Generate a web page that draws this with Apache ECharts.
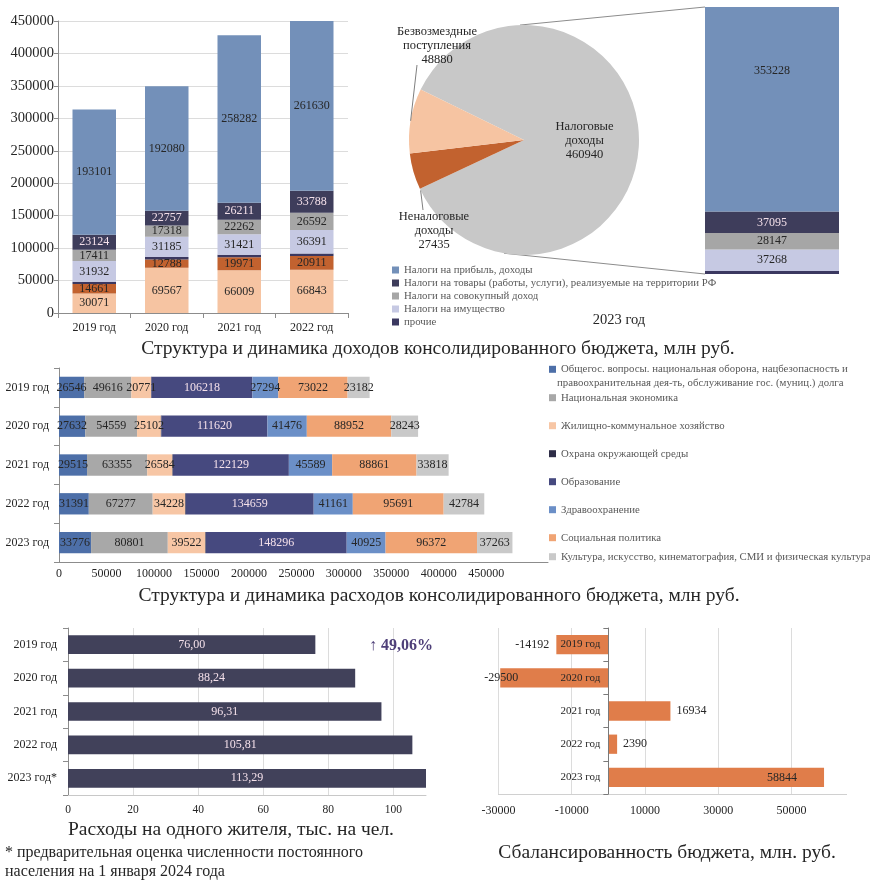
<!DOCTYPE html>
<html><head><meta charset="utf-8">
<script src="https://cdn.jsdelivr.net/npm/echarts@6/dist/echarts.min.js"></script>
<style>html,body{margin:0;padding:0;background:#fff}#c{width:870px;height:881px}</style>
</head><body><div id="c"></div>
<script>
// ---------- DATA ----------
const incomeYears = ['2019 год', '2020 год', '2021 год', '2022 год'];
const incomeBezvozm = [30071, 69567, 66009, 66843];
const incomeNenalog = [14661, 12788, 19971, 20911];
const incomeProchie = [3300, 3800, 3900, 3800];
const incomeImush = [31932, 31185, 31421, 36391];
const incomeSovok = [17411, 17318, 22262, 26592];
const incomeTovary = [23124, 22757, 26211, 33788];
const incomePribyl = [193101, 192080, 258282, 261630];

const pie2023Names = ['Налоговые доходы', 'Неналоговые доходы', 'Безвозмездные поступления'];
const pie2023Values = [460940, 27435, 48880];

const tax2023Category = ['2023 год'];
const tax2023Prochie = [5202];
const tax2023Imush = [37268];
const tax2023Sovok = [28147];
const tax2023Tovary = [37095];
const tax2023Pribyl = [353228];

const taxNames = ['Налоги на прибыль, доходы', 'Налоги на товары (работы, услуги), реализуемые на территории РФ',
  'Налоги на совокупный доход', 'Налоги на имущество', 'прочие'];

const expYears = ['2019 год', '2020 год', '2021 год', '2022 год', '2023 год'];
const expNames = ['Общегос. вопросы. национальная оборона, нацбезопасность и правоохранительная дея-ть, обслуживание гос. (муниц.) долга',
  'Национальная экономика', 'Жилищно-коммунальное хозяйство', 'Охрана окружающей среды', 'Образование',
  'Здравоохранение', 'Социальная политика', 'Культура, искусство, кинематография, СМИ и физическая культура'];
const expObshegos = [26546, 27632, 29515, 31391, 33776];
const expNacEkon = [49616, 54559, 63355, 67277, 80801];
const expZhkh = [20771, 25102, 26584, 34228, 39522];
const expOhrana = [500, 600, 500, 700, 600];
const expObraz = [106218, 111620, 122129, 134659, 148296];
const expZdrav = [27294, 41476, 45589, 41161, 40925];
const expSocial = [73022, 88952, 88861, 95691, 96372];
const expKultura = [23182, 28243, 33818, 42784, 37263];

const perCapitaYears = ['2019 год', '2020 год', '2021 год', '2022 год', '2023 год*'];
const perCapitaValues = [76.00, 88.24, 96.31, 105.81, 113.29];
const perCapitaGrowth = '↑ 49,06%';

const balanceYears = ['2019 год', '2020 год', '2021 год', '2022 год', '2023 год'];
const balanceValues = [-14192, -29500, 16934, 2390, 58844];

const incomeTicks = {min: 0, max: 450000, interval: 50000};
const expTicks = {min: 0, max: 515000, interval: 50000, lastLabel: 450000};
const perCapTicks = {min: 0, max: 110, interval: 20};
const balTicks = {min: -30000, max: 65000, interval: 20000};

// ---------- STYLE ----------
const FONT = 'Liberation Serif';
const DARK = '#262626';
const LIGHT = '#f4e0ea';
const AXIS = '#8c8c8c';
const GRIDC = '#dcdcdc';
const C = {
  pribyl: '#7390b9', tovary: '#3e3d5b', sovok: '#a6a6a6', imush: '#c6c9e3', prochie: '#3b3860',
  nenalog: '#c2622f', bezv: '#f6c4a2', pieTax: '#c8c8c8'
};
const EXPC = ['#4d6fa8', '#a8a8a8', '#f7c6a5', '#2e2d47', '#46497f', '#6b8fc7', '#f0a474', '#c9c9c9'];

const PIE_CENTER = [524, 140], PIE_R = 115, PIE_START = 154;
const BAR2 = {left: 705, top: 7, width: 134, height: 267};
const BALGRID = {left: 498.4, top: 628, width: 348.2, height: 166};
// outside pie label placement: label centre, leader start angle on the rim, leader end offset from label centre
const PIE_LABELS = {
  1: {xy: [434, 231], angle: 206, end: [-11, -21]},
  2: {xy: [437, 46], angle: 170.4, end: [-20, 19]}
};
const LEGEND_SPLIT = 'нацбезопасность и ';

function lbl(color, extra) {
  return Object.assign({show: true, position: 'inside', color: color, fontFamily: FONT, fontSize: 12}, extra || {});
}
const sum = a => a.reduce((s, v) => s + v, 0);
const plain = v => String(v);

const chart = echarts.init(document.getElementById('c'));

// income stacked series (grid 0)
const incomeDefs = [
  ['Безвозмездные поступления', incomeBezvozm, C.bezv, DARK],
  ['Неналоговые доходы', incomeNenalog, C.nenalog, DARK],
  ['прочие', incomeProchie, C.prochie, null],
  ['Налоги на имущество', incomeImush, C.imush, DARK],
  ['Налоги на совокупный доход', incomeSovok, C.sovok, DARK],
  [taxNames[1], incomeTovary, C.tovary, LIGHT],
  ['Налоги на прибыль, доходы', incomePribyl, C.pribyl, DARK]
];
const series = [];
incomeDefs.forEach(d => series.push({
  type: 'bar', name: d[0], data: d[1], stack: 'inc', xAxisIndex: 0, yAxisIndex: 0,
  barWidth: '60%', itemStyle: {color: d[2]},
  label: d[3] ? lbl(d[3]) : {show: false}
}));

// 2023 tax breakdown bar (grid 1)
const taxTotal = sum(tax2023Prochie) + sum(tax2023Imush) + sum(tax2023Sovok) + sum(tax2023Tovary) + sum(tax2023Pribyl);
const taxDefs = [
  ['прочие', tax2023Prochie, C.prochie, null, null],
  ['Налоги на имущество', tax2023Imush, C.imush, DARK, null],
  ['Налоги на совокупный доход', tax2023Sovok, C.sovok, DARK, null],
  [taxNames[1], tax2023Tovary, C.tovary, LIGHT, null],
  ['Налоги на прибыль, доходы', tax2023Pribyl, C.pribyl, DARK, ['50%', '31%']]
];
taxDefs.forEach(d => series.push({
  type: 'bar', name: d[0], data: d[1], stack: 't23', xAxisIndex: 1, yAxisIndex: 1,
  barWidth: '100%', itemStyle: {color: d[2]},
  label: d[3] ? lbl(d[3], d[4] ? {position: d[4], align: 'center', verticalAlign: 'middle'} : {}) : {show: false}
}));

// pie
const pieColors = [C.pieTax, C.nenalog, C.bezv];
series.push({
  type: 'pie', center: PIE_CENTER, radius: PIE_R, startAngle: PIE_START, clockwise: true,
  data: pie2023Names.map((n, i) => ({
    name: n, value: pie2023Values[i], itemStyle: {color: pieColors[i]},
    label: {position: i === 0 ? 'inside' : 'outside'}
  })),
  label: {
    show: true, fontFamily: FONT, fontSize: 12.5, lineHeight: 14, color: DARK,
    formatter: p => p.name.replace(' ', '\n') + '\n' + p.value
  },
  labelLine: {show: false},
  labelLayout: function (p) {
    const L = PIE_LABELS[p.dataIndex];
    if (!L) return {};
    return {x: L.xy[0], y: L.xy[1], align: 'center', verticalAlign: 'middle'};
  },
  emphasis: {disabled: true}
});

// expenses (grid 2)
const expData = [expObshegos, expNacEkon, expZhkh, expOhrana, expObraz, expZdrav, expSocial, expKultura];
const expLabelColor = [DARK, DARK, DARK, null, LIGHT, DARK, DARK, DARK];
expData.forEach((d, i) => series.push({
  type: 'bar', name: expNames[i], data: d, stack: 'exp', xAxisIndex: 2, yAxisIndex: 2,
  barWidth: '55%', itemStyle: {color: EXPC[i]},
  label: expLabelColor[i] ? lbl(expLabelColor[i]) : {show: false}
}));

// per capita (grid 3)
series.push({
  type: 'bar', name: 'Расходы на одного жителя', data: perCapitaValues, xAxisIndex: 3, yAxisIndex: 3,
  barWidth: '56%', itemStyle: {color: '#41415a'},
  label: lbl(LIGHT, {formatter: p => p.value.toFixed(2).replace('.', ',')})
});

// balance (grid 4)
function balLabel(v) {
  const range = balTicks.max - balTicks.min;
  if (v < 0) {
    if (v - balTicks.min < 0.1 * range) return {position: 'insideLeft', distance: 0, offset: [-16, 0]};
    return {position: 'left', distance: 7};
  }
  if (balTicks.max - v < 0.1 * range) return {position: 'insideRight', distance: 27};
  return {position: 'right', distance: 6};
}
series.push({
  type: 'bar', name: 'Сбалансированность', xAxisIndex: 4, yAxisIndex: 4, barWidth: '58%',
  itemStyle: {color: '#e07d4a'},
  data: balanceValues.map(v => ({value: v, label: balLabel(v)})),
  label: {show: true, color: DARK, fontFamily: FONT, fontSize: 12}
});
// y axis of the balance chart sits on the zero of the value axis
const balZeroOffset = -(0 - balTicks.min) / (balTicks.max - balTicks.min) * BALGRID.width;

const axisLbl = (size, extra) => Object.assign({fontFamily: FONT, fontSize: size, color: DARK}, extra || {});
const LEG_TEXT = {fontFamily: FONT, fontSize: 10.8, color: '#595959'};
const legFirstLine = expNames[0].split(LEGEND_SPLIT)[0] + LEGEND_SPLIT.trim();
const legSecondLine = expNames[0].split(LEGEND_SPLIT)[1];

const option = {
  animation: false,
  textStyle: {fontFamily: FONT},
  grid: [
    {left: 58, top: 21, width: 290, height: 292},
    BAR2,
    {left: 59, top: 368, width: 489, height: 194},
    {left: 68, top: 628, width: 358, height: 167},
    BALGRID
  ],
  xAxis: [
    {type: 'category', gridIndex: 0, data: incomeYears,
      axisLine: {lineStyle: {color: AXIS}}, axisTick: {show: true, length: 5, lineStyle: {color: AXIS}},
      axisLabel: axisLbl(12, {margin: 9, interval: 0})},
    {type: 'category', gridIndex: 1, data: tax2023Category, show: false},
    {type: 'value', gridIndex: 2, min: expTicks.min, max: expTicks.max, interval: expTicks.interval,
      axisLine: {show: true, lineStyle: {color: AXIS}}, axisTick: {show: false}, splitLine: {show: false},
      axisLabel: axisLbl(12, {margin: 6, formatter: v => v > expTicks.lastLabel ? '' : String(v)})},
    {type: 'value', gridIndex: 3, min: perCapTicks.min, max: perCapTicks.max, interval: perCapTicks.interval,
      axisLine: {show: true, lineStyle: {color: '#c8c8c8'}}, axisTick: {show: false},
      splitLine: {show: true, showMaxLine: false, lineStyle: {color: GRIDC}},
      axisLabel: axisLbl(11.5, {margin: 9, showMaxLabel: false, formatter: plain})},
    {type: 'value', gridIndex: 4, min: balTicks.min, max: balTicks.max, interval: balTicks.interval,
      axisLine: {show: true, lineStyle: {color: '#d0d0d0'}}, axisTick: {show: false},
      splitLine: {show: true, showMaxLine: false, lineStyle: {color: GRIDC}},
      axisLabel: axisLbl(12, {margin: 11, showMaxLabel: false, formatter: plain})}
  ],
  yAxis: [
    {type: 'value', gridIndex: 0, min: incomeTicks.min, max: incomeTicks.max, interval: incomeTicks.interval,
      axisLine: {show: true, lineStyle: {color: AXIS}}, axisTick: {show: true, length: 4, lineStyle: {color: AXIS}},
      splitLine: {show: true, lineStyle: {color: GRIDC}},
      axisLabel: axisLbl(14.5, {margin: 4, formatter: plain})},
    {type: 'value', gridIndex: 1, min: 0, max: taxTotal, show: false},
    {type: 'category', gridIndex: 2, data: expYears, inverse: true,
      axisLine: {show: true, lineStyle: {color: AXIS}}, axisTick: {show: true, length: 5, lineStyle: {color: AXIS}},
      axisLabel: axisLbl(12, {margin: 10, interval: 0})},
    {type: 'category', gridIndex: 3, data: perCapitaYears, inverse: true,
      axisLine: {show: true, lineStyle: {color: AXIS}}, axisTick: {show: true, length: 5, lineStyle: {color: AXIS}},
      axisLabel: axisLbl(12, {margin: 11, interval: 0})},
    {type: 'category', gridIndex: 4, data: balanceYears, inverse: true, z: 5, offset: balZeroOffset,
      axisLine: {show: true, onZero: false, lineStyle: {color: '#7a7a7a'}}, axisTick: {show: true, length: 5, lineStyle: {color: '#7a7a7a'}},
      axisLabel: axisLbl(11, {margin: 8, interval: 0})}
  ],
  legend: [
    {left: 392, top: 263.5, orient: 'vertical', icon: 'rect', itemWidth: 7, itemHeight: 7, itemGap: 0,
      selectedMode: false, padding: 0,
      textStyle: Object.assign({lineHeight: 13}, LEG_TEXT), data: taxNames},
    {left: 549, top: 362.3, orient: 'vertical', icon: 'rect', itemWidth: 7, itemHeight: 7, itemGap: 0,
      selectedMode: false, padding: 0,
      formatter: () => legFirstLine,
      textStyle: Object.assign({lineHeight: 14}, LEG_TEXT), data: [expNames[0]]},
    {left: 549, top: 390.7, orient: 'vertical', icon: 'rect', itemWidth: 7, itemHeight: 7, itemGap: 14,
      selectedMode: false, padding: 0,
      textStyle: Object.assign({lineHeight: 14}, LEG_TEXT), data: expNames.slice(1, 7)},
    {left: 549, top: 549.7, orient: 'vertical', icon: 'rect', itemWidth: 7, itemHeight: 7, itemGap: 0,
      selectedMode: false, padding: 0,
      textStyle: Object.assign({lineHeight: 14}, LEG_TEXT), data: [expNames[7]]}
  ],
  series: series
};

// connector lines for pie-of-bar, pie leader lines and text blocks
const rad = a => a * Math.PI / 180;
const rim = a => [PIE_CENTER[0] + PIE_R * Math.cos(rad(a)), PIE_CENTER[1] - PIE_R * Math.sin(rad(a))];
const pieTop = rim(92), pieBot = rim(260);
const leaderLines = Object.keys(PIE_LABELS).map(k => {
  const L = PIE_LABELS[k], s = rim(L.angle);
  return {type: 'line', shape: {x1: s[0], y1: s[1], x2: L.xy[0] + L.end[0], y2: L.xy[1] + L.end[1]},
    style: {stroke: '#7f7f7f', lineWidth: 1}, z: 10};
});
const texts = [
  ['Структура и динамика доходов консолидированного бюджета, млн руб.', 438, 349, 19.5, 'center', 'normal', DARK],
  ['2023 год', 619, 320.5, 14.5, 'center', 'normal', DARK],
  ['Структура и динамика расходов консолидированного бюджета, млн руб.', 439, 596, 19.5, 'center', 'normal', DARK],
  ['Расходы на одного жителя, тыс. на чел.', 231, 830, 19.5, 'center', 'normal', DARK],
  ['* предварительная оценка численности постоянного', 5, 853, 16, 'left', 'normal', DARK],
  ['населения на 1 января 2024 года', 5, 872, 16, 'left', 'normal', DARK],
  ['Сбалансированность бюджета, млн. руб.', 667, 853, 19.5, 'center', 'normal', DARK],
  [perCapitaGrowth, 401, 646, 16, 'center', 'bold', '#4e3f78'],
  [legSecondLine, 557, 383, 10.8, 'left', 'normal', '#595959']
];
option.graphic = [
  {type: 'line', shape: {x1: pieTop[0], y1: pieTop[1], x2: BAR2.left, y2: BAR2.top}, style: {stroke: AXIS, lineWidth: 1}},
  {type: 'line', shape: {x1: pieBot[0], y1: pieBot[1], x2: BAR2.left, y2: BAR2.top + BAR2.height}, style: {stroke: AXIS, lineWidth: 1}}
].concat(leaderLines).concat(texts.map(t => ({
  type: 'text', x: t[1], y: t[2], z: 10,
  style: {text: t[0], fill: t[6], font: t[5] + ' ' + t[3] + 'px "' + FONT + '"', textAlign: t[4], textVerticalAlign: 'middle'}
})));

chart.setOption(option);
</script></body></html>
